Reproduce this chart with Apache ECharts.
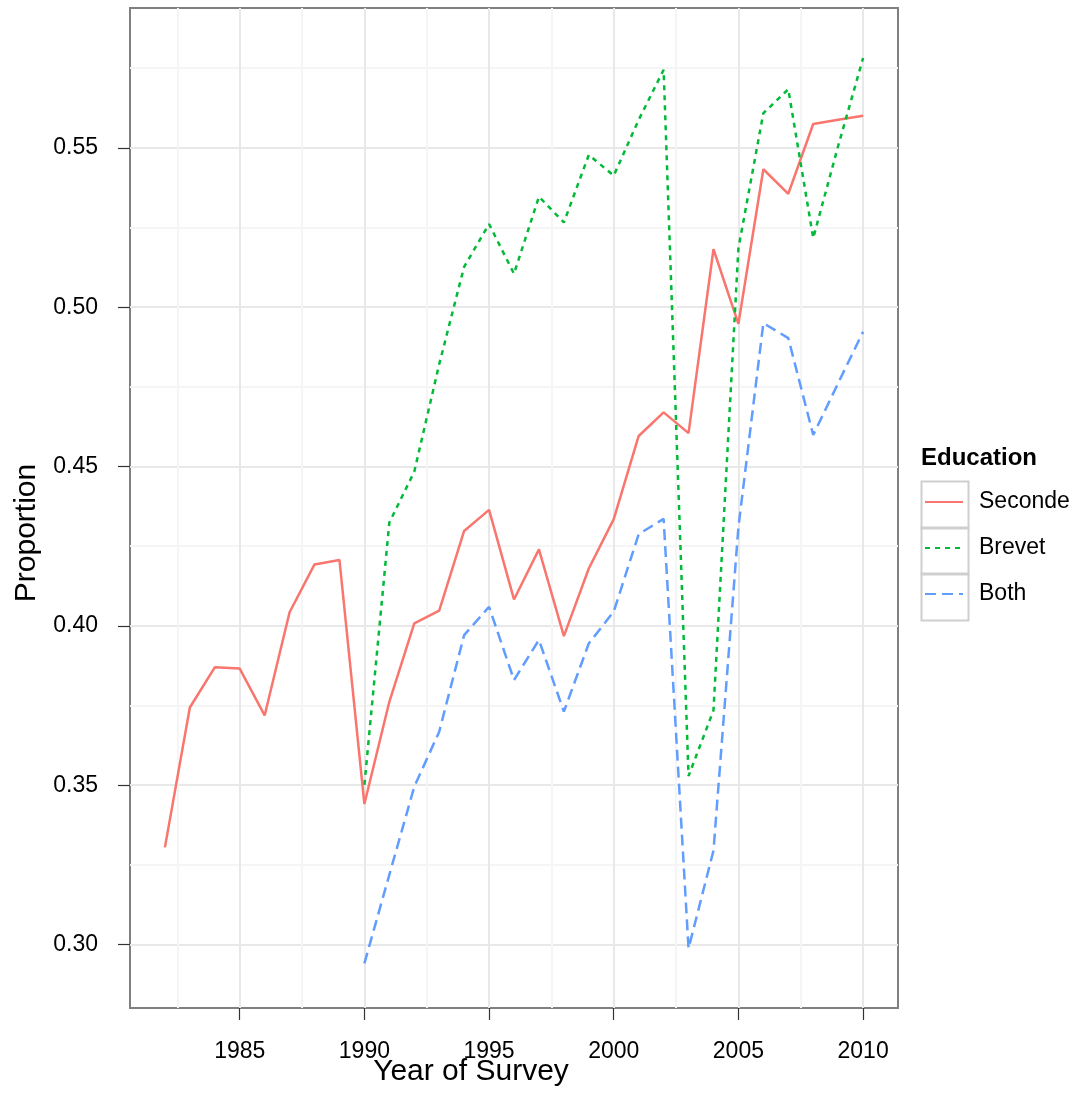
<!DOCTYPE html>
<html>
<head>
<meta charset="utf-8">
<script src="https://cdn.jsdelivr.net/npm/echarts@6/dist/echarts.min.js"></script>
<style>
html,body{margin:0;padding:0;background:#fff;}
#chart{width:1087px;height:1093px;}
</style>
</head>
<body>
<div id="chart"></div>
<script>
// ---- data ----
var yearsSeconde = [1982,1983,1984,1985,1986,1987,1988,1989,1990,1991,1992,1993,1994,1995,1996,1997,1998,1999,2000,2001,2002,2003,2004,2005,2006,2007,2008,2009,2010];
var seconde = [0.3305,0.3744,0.3870,0.3866,0.3719,0.4043,0.4193,0.4207,0.3441,0.3762,0.4008,0.4048,0.4298,0.4364,0.4083,0.4240,0.3968,0.4180,0.4335,0.4596,0.4670,0.4605,0.5182,0.4948,0.5433,0.5356,0.5575,0.5588,0.5601];
var yearsLate = [1990,1991,1992,1993,1994,1995,1996,1997,1998,1999,2000,2001,2002,2003,2004,2005,2006,2007,2008,2009,2010];
var brevet = [0.3501,0.4324,0.4484,0.4821,0.5127,0.5261,0.5105,0.5347,0.5266,0.5478,0.5413,0.5588,0.5745,0.3529,0.3735,0.5185,0.5609,0.5684,0.5217,0.5506,0.5782];
var both = [0.2941,0.3219,0.3495,0.3668,0.3971,0.4060,0.3830,0.3956,0.3731,0.3945,0.4045,0.4288,0.4336,0.2988,0.3295,0.4310,0.4950,0.4903,0.4599,0.4762,0.4923];
var seriesNames = ['Seconde','Brevet','Both'];
var xMajor = [1985,1990,1995,2000,2005,2010];
var xMinor = [1982.5,1987.5,1992.5,1997.5,2002.5,2007.5];
var yMajor = [0.30,0.35,0.40,0.45,0.50,0.55];
var yMinor = [0.325,0.375,0.425,0.475,0.525,0.575];

function pairs(xs, ys){ return xs.map(function(x,i){ return [x, ys[i]]; }); }

var FONT = 'Liberation Sans';
var chart = echarts.init(document.getElementById('chart'), null, {renderer:'canvas'});

var option = {
  backgroundColor: '#ffffff',
  animation: false,
  textStyle: {fontFamily: FONT},
  title: {
    text: 'Education', left: 921, top: 446, padding: 0,
    textStyle: {fontFamily: FONT, fontSize: 24, fontWeight: 'bold', color: '#000'}
  },
  legend: {
    orient: 'vertical', left: 924, top: 479, padding: 0,
    itemWidth: 38, itemHeight: 14, itemGap: 0,
    itemStyle: {opacity: 0},
    textStyle: {fontFamily: FONT, fontSize: 23, color: '#000', lineHeight: 46, padding: [0,0,0,11]},
    data: seriesNames
  },
  grid: {
    left: 130, right: 189, top: 8, bottom: 85,
    outerBoundsMode: 'none', containLabel: false,
    show: true, borderColor: '#808080', borderWidth: 2, backgroundColor: 'transparent'
  },
  xAxis: [{
    type: 'value', min: 1980.6, max: 2011.4,
    name: 'Year of Survey', nameLocation: 'middle', nameGap: 49, nameMoveOverlap: false,
    nameTextStyle: {fontFamily: FONT, fontSize: 30, color: '#000', padding: [0,86,0,0]},
    axisLine: {show: false},
    axisTick: {show: true, length: 12, customValues: xMajor, lineStyle: {color: '#333', width: 1.2}},
    axisLabel: {customValues: xMajor, margin: 32, fontFamily: FONT, fontSize: 23, color: '#000',
      formatter: function(v){ return String(Math.round(v)); }},
    splitLine: {show: true, lineStyle: {color: '#e8e8e8', width: 2}}
  },{
    type: 'value', min: 1980.6, max: 2011.4, position: 'top',
    axisLine: {show: false},
    axisTick: {show: false, customValues: xMinor},
    axisLabel: {show: false, customValues: xMinor},
    splitLine: {show: true, lineStyle: {color: '#f5f5f5', width: 2}}
  }],
  yAxis: [{
    type: 'value', min: 0.2801, max: 0.5939,
    name: 'Proportion', nameLocation: 'middle', nameGap: 88, nameRotate: 90,
    nameTextStyle: {fontFamily: FONT, fontSize: 30, color: '#000', padding: [0,50,0,0]},
    axisLine: {show: false},
    axisTick: {show: true, length: 12, customValues: yMajor, lineStyle: {color: '#333', width: 1.2}},
    axisLabel: {customValues: yMajor, margin: 32, fontFamily: FONT, fontSize: 23, color: '#000',
      formatter: function(v){ return v.toFixed(2); }},
    splitLine: {show: true, lineStyle: {color: '#e8e8e8', width: 2}}
  },{
    type: 'value', min: 0.2801, max: 0.5939, position: 'right',
    axisLine: {show: false},
    axisTick: {show: false, customValues: yMinor},
    axisLabel: {show: false, customValues: yMinor},
    splitLine: {show: true, lineStyle: {color: '#f5f5f5', width: 2}}
  }],
  series: [{
    name: 'Seconde', type: 'line', data: pairs(yearsSeconde, seconde),
    symbol: 'none', lineStyle: {color: '#F8766D', width: 2.5, type: 'solid'},
    itemStyle: {color: '#F8766D'}, z: 3
  },{
    name: 'Brevet', type: 'line', data: pairs(yearsLate, brevet),
    symbol: 'none', lineStyle: {color: '#00BA38', width: 2.5, type: [5,5]},
    itemStyle: {color: '#00BA38'}, z: 3
  },{
    name: 'Both', type: 'line', data: pairs(yearsLate, both),
    symbol: 'none', lineStyle: {color: '#619CFF', width: 2.5, type: [11,6]},
    itemStyle: {color: '#619CFF'}, z: 3
  }],
  graphic: [
    {type: 'rect', left: 919, top: 479, shape: {width: 47, height: 47}, style: {fill: 'none', stroke: '#cfcfcf', lineWidth: 2}, z: 0},
    {type: 'rect', left: 919, top: 525, shape: {width: 47, height: 47}, style: {fill: 'none', stroke: '#cfcfcf', lineWidth: 2}, z: 0},
    {type: 'rect', left: 919, top: 571, shape: {width: 47, height: 47}, style: {fill: 'none', stroke: '#cfcfcf', lineWidth: 2}, z: 0}
  ]
};
chart.setOption(option);
</script>
</body>
</html>
